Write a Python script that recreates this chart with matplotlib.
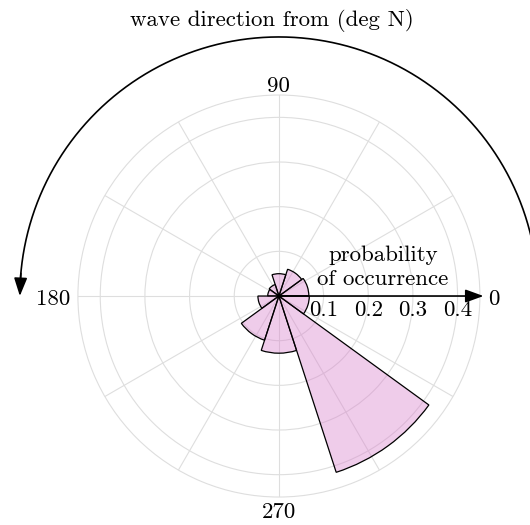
import matplotlib
matplotlib.use('Agg')
import matplotlib.pyplot as plt
import numpy as np

plt.rcParams['font.family'] = ['cmr10', 'DejaVu Serif']
plt.rcParams['mathtext.fontset'] = 'cm'
plt.rcParams['axes.formatter.use_mathtext'] = True
plt.rcParams['font.size'] = 16.5

# direction bins (deg, centre of each 36 deg bin) and probability of occurrence
bin_centers = [18, 54, 90, 126, 162, 198, 234, 270, 306, 342]
probability = [0.067, 0.063, 0.05, 0.027, 0.025, 0.047, 0.104, 0.128, 0.415, 0.068]
r_ticks = [0.1, 0.2, 0.3, 0.4]
r_tick_labels = ['0.1', '0.2', '0.3', '0.4']
theta_grid = list(range(0, 360, 30))
theta_label_angles = [0, 90, 180, 270]
theta_label_texts = ['0', '90', '180', '270']

fig = plt.figure(figsize=(5.3, 5.25), dpi=100)
ax = fig.add_axes([0.147, 0.0533, 0.7585, 0.7657], projection='polar')

ax.bar(np.deg2rad(bin_centers), probability, width=np.deg2rad(36),
       facecolor=(0.85, 0.5, 0.8, 0.4), edgecolor='k', linewidth=0.9, zorder=3)

rmax = 0.45
ax.set_ylim(0, rmax)
ax.set_rticks(r_ticks)
ax.set_yticklabels([])
ax.set_thetagrids(theta_grid, labels=[''] * len(theta_grid))
ax.grid(color='#dedede', linewidth=0.8)
ax.spines['polar'].set_color('#dedede')
ax.spines['polar'].set_linewidth(0.8)

# angle labels placed just outside the outer circle
label_style = {0: ((8, -9), 'left', 'baseline'),
               90: ((0, 3), 'center', 'baseline'),
               180: ((-8, -9), 'right', 'baseline'),
               270: ((0, -21), 'center', 'baseline')}
for ang, lab in zip(theta_label_angles, theta_label_texts):
    off, ha, va = label_style[ang]
    ax.annotate(lab, xy=(np.deg2rad(ang), rmax), xytext=off,
                textcoords='offset pixels', ha=ha, va=va,
                annotation_clip=False)

# radial labels just under the 0 deg axis
for r, lab in zip(r_ticks, r_tick_labels):
    ax.annotate(lab, xy=(0, r), xytext=(0, -3), textcoords='offset points',
                ha='center', va='top')

head = '-|>,head_length=0.55,head_width=0.2'

# arrow along the radial axis
ax.annotate('', xy=(0, 0.458), xytext=(0, 0), annotation_clip=False,
            arrowprops=dict(arrowstyle=head, color='k', lw=1.2,
                            mutation_scale=20, shrinkA=0, shrinkB=0))
ax.text(np.deg2rad(15.6), 0.242, 'probability\nof occurrence',
        ha='center', va='center', linespacing=1.3)

# curved arrow for wave direction
th = np.deg2rad(np.linspace(5, 176, 200))
ax.plot(th, np.full_like(th, 0.58), color='k', lw=1.2, clip_on=False)
ax.annotate('', xy=(np.pi, 0.58), xytext=(np.deg2rad(175), 0.58),
            annotation_clip=False,
            arrowprops=dict(arrowstyle=head, color='k', lw=1.2,
                            mutation_scale=20, shrinkA=0, shrinkB=0))

fig.text(272 / 530, 1 - 20 / 525, 'wave direction from (deg N)',
         ha='center', va='center')

fig.savefig('out.png', dpi=100)
